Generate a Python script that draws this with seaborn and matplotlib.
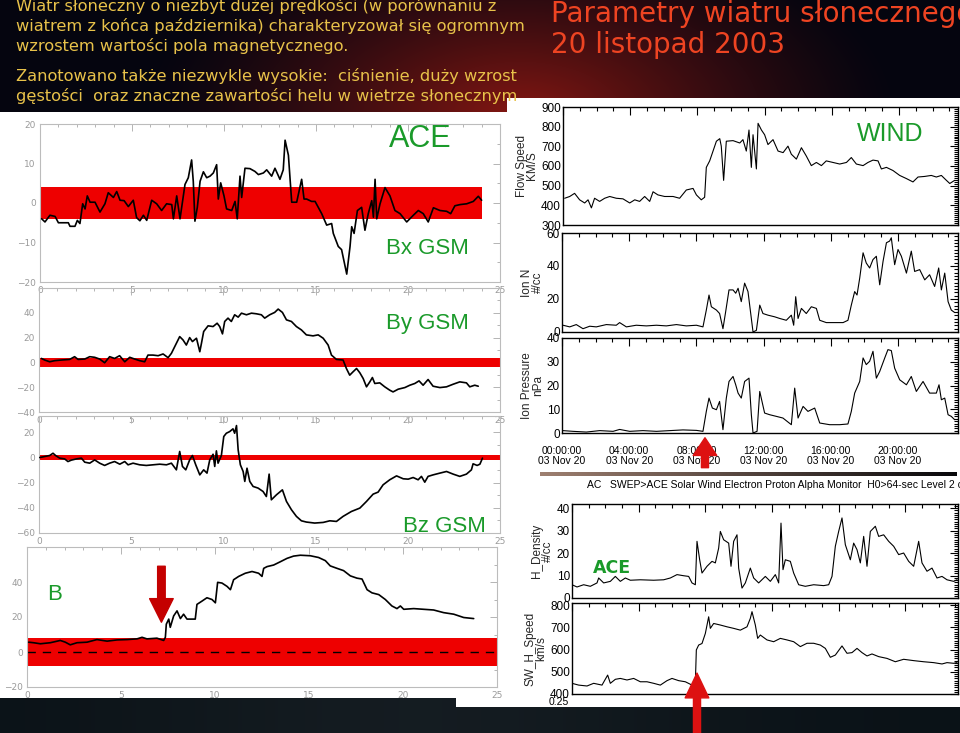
import numpy as np
import matplotlib
matplotlib.use("Agg")
import matplotlib.pyplot as plt
from matplotlib.patches import Rectangle
from matplotlib.ticker import MultipleLocator, FixedLocator
import seaborn as sns

W, H = 960, 733

# ---------------- ACE magnetic field, 20 Nov 2003 (hours UT, nT) ----------------
bx_hour = [0.09, 0.27, 0.54, 0.82, 1.0, 1.54, 1.63, 1.9, 2.03, 2.17,
           2.32, 2.45, 2.57, 2.72, 2.99, 3.26, 3.53, 3.71, 3.99, 4.17,
           4.35, 4.57, 4.8, 5.07, 5.25, 5.43, 5.62, 5.8, 6.07, 6.34,
           6.61, 6.88, 7.16, 7.25, 7.43, 7.61, 7.88, 8.06, 8.24, 8.33,
           8.42, 8.55, 8.7, 8.88, 9.06, 9.24, 9.42, 9.6, 9.69, 9.82,
           10.0, 10.14, 10.42, 10.6, 10.72, 10.87, 10.96, 11.14, 11.41, 11.68,
           11.87, 12.14, 12.32, 12.59, 12.77, 13.04, 13.22, 13.32, 13.5, 13.68,
           13.95, 14.22, 14.35, 14.49, 14.76, 14.95, 15.31, 15.58, 15.85, 15.94,
           16.21, 16.39, 16.67, 16.85, 16.94, 17.07, 17.25, 17.48, 17.66, 17.84,
           18.03, 18.12, 18.21, 18.3, 18.48, 18.75, 19.02, 19.29, 19.57, 19.93,
           20.29, 20.56, 20.83, 21.1, 21.38, 21.74, 22.1, 22.32, 22.55, 22.83,
           23.19, 23.55, 23.82, 24.0]
bx_val = [-4, -4.8, -3.1, -3.4, -5, -5, -5.9, -5.9, -4.4, -5.2,
          -0.2, -1.5, 1.8, 0.2, 0.2, -2.3, -0.2, 2.6, 1.4, 2.9,
          0.7, 0.6, -0.9, 0.7, -3.7, -4.5, -3.1, -4.4, 0.7, -0.2,
          -1.9, -0.2, -0.4, -4, 1.8, -4, 4.7, 6.4, 10.9, 5.5,
          -4.6, -1.1, 5.5, 7.9, 6.4, 6.8, 7.6, 9.7, 1.0, 5.1,
          1.8, -1.5, -1.9, 0.4, -4, 6.8, 1.4, 8.8, 8.7, 8.0,
          7.2, 7.6, 8.4, 6.8, 8.8, 6.0, 8.4, 15.9, 12.1, 0.2,
          0.2, 6.0, 1.0, 1.0, 0.4, 0.4, -2.7, -5.6, -5.2, -7.7,
          -11, -11.8, -18, -11, -6, -7.7, -1.9, -1.1, -6.9, -2.7,
          0.6, -3.6, 6.0, -4, -0.2, 3.9, 1.8, -1.9, -2.7, -4.8,
          -3.1, -1.9, -2.7, -4.8, -1.2, -1.9, -2.1, -2.7, -0.7, -0.4,
          -0.2, 0.4, 1.7, 0.7]

by_hour = [0.13, 0.31, 0.58, 0.85, 1.21, 1.66, 1.93, 2.12, 2.48, 2.75,
           3.02, 3.29, 3.56, 3.83, 4.1, 4.37, 4.65, 4.92, 5.19, 5.46,
           5.73, 5.91, 6.18, 6.46, 6.73, 7.0, 7.18, 7.36, 7.45, 7.63,
           7.81, 7.99, 8.17, 8.32, 8.54, 8.72, 8.81, 8.93, 9.17, 9.44,
           9.66, 9.8, 9.95, 10.07, 10.25, 10.43, 10.61, 10.8, 10.98, 11.25,
           11.52, 11.79, 12.06, 12.24, 12.51, 12.78, 12.97, 13.2, 13.42, 13.69,
           13.96, 14.23, 14.5, 14.86, 15.14, 15.41, 15.68, 15.86, 16.13, 16.49,
           16.67, 16.85, 17.03, 17.22, 17.4, 17.58, 17.76, 17.94, 18.08, 18.21,
           18.48, 18.75, 19.02, 19.2, 19.48, 19.84, 20.11, 20.38, 20.61, 20.83,
           21.1, 21.37, 21.74, 22.1, 22.46, 22.82, 23.18, 23.36, 23.63, 23.82]
by_val = [3.2, 1.9, 0.5, 1.4, 1.9, 2.4, 4.6, 2.4, 2.7, 4.6,
          4.1, 2.7, -0.3, 4.6, 3.2, 5.4, 0.5, 4.1, 2.7, 1.4,
          0.5, 5.9, 5.9, 5.4, 6.8, 3.8, 7.3, 12.7, 15.4, 20.8,
          18.1, 14.0, 20.0, 16.8, 19.5, 8.6, 15.4, 24.9, 29.5, 28.9,
          31.6, 28.9, 23.0, 33.0, 35.7, 33.0, 38.4, 36.5, 39.7, 38.4,
          39.7, 39.2, 38.4, 35.7, 38.4, 40.3, 43.0, 40.3, 34.3, 33.0,
          28.9, 26.2, 22.2, 21.4, 22.2, 19.5, 14.0, 5.9, 2.4, 1.9,
          -4.9, -10.3, -7.6, -4.9, -8.4, -13.0, -19.7, -15.7, -12.2, -17.0,
          -16.5, -19.7, -22.4, -23.8, -21.6, -20.3, -18.4, -17.0, -14.9, -18.4,
          -13.8, -19.2, -20.3, -19.7, -17.6, -15.7, -16.5, -19.7, -18.4, -19.2]

bz_hour = [0.04, 0.31, 0.58, 0.76, 0.9, 1.12, 1.39, 1.57, 1.75, 2.03,
           2.3, 2.48, 2.75, 3.02, 3.29, 3.56, 3.83, 4.1, 4.38, 4.65,
           4.83, 5.1, 5.46, 5.82, 6.18, 6.55, 6.91, 7.18, 7.45, 7.63,
           7.78, 7.96, 8.17, 8.32, 8.5, 8.72, 8.93, 9.11, 9.26, 9.44,
           9.53, 9.62, 9.71, 9.89, 10.02, 10.16, 10.34, 10.52, 10.61, 10.71,
           10.8, 10.92, 11.07, 11.16, 11.28, 11.43, 11.61, 11.88, 12.15, 12.33,
           12.48, 12.6, 12.88, 13.2, 13.42, 13.69, 13.96, 14.23, 14.5, 14.95,
           15.41, 15.77, 16.13, 16.49, 16.94, 17.4, 17.76, 18.12, 18.39, 18.66,
           19.02, 19.39, 19.75, 20.02, 20.29, 20.56, 20.74, 20.92, 21.1, 21.37,
           21.74, 22.1, 22.46, 22.82, 23.18, 23.45, 23.54, 23.76, 23.91, 24.05]
bz_val = [0, 0.8, 1.6, 3.4, 1.6, -0.5, -1.1, -3.2, -2.1, -1.1,
          -0.5, -3.7, -4.5, -1.9, -4.5, -6.3, -4.5, -3.2, -5.3, -3.2,
          -5.8, -4.5, -5.8, -6.3, -5.8, -5.3, -5.8, -4.5, -9.8, 4.8,
          -7.1, -9.8, -1.9, 1.6, -5.8, -13.8, -9.8, -12.4, -1.9, 2.6,
          -7.1, 5.3, -4.5, 1.6, 16.7, 19.3, 20.6, 22.8, 19.3, 25.4,
          6.1, -5.8, -11.1, -19.0, -8.5, -19.0, -23.0, -24.3, -27.0, -31.0,
          -13.2, -33.6, -29.6, -25.7, -34.9, -41.5, -46.8, -50.3, -51.3, -52.1,
          -51.6, -50.3, -50.8, -46.8, -42.9, -40.2, -34.9, -29.1, -27.5, -21.7,
          -17.7, -14.6, -16.9, -17.2, -15.9, -17.7, -15.0, -19.6, -15.0, -13.8,
          -12.4, -11.1, -13.2, -15.0, -13.2, -9.8, -5.0, -6.3, -5.3, -0.5]

b_hour = [0.09, 0.35, 0.71, 1.24, 1.77, 2.04, 2.3, 2.66, 3.19, 3.72,
          4.26, 4.79, 5.32, 5.85, 6.12, 6.38, 6.91, 7.27, 7.36, 7.41,
          7.54, 7.62, 7.8, 7.98, 8.16, 8.33, 8.51, 8.78, 8.95, 9.04,
          9.31, 9.57, 9.84, 10.02, 10.14, 10.37, 10.64, 10.82, 10.99, 11.26,
          11.61, 11.97, 12.32, 12.5, 12.59, 12.77, 13.12, 13.48, 13.83, 14.18,
          14.54, 15.07, 15.51, 15.87, 16.13, 16.49, 16.84, 17.2, 17.55, 17.82,
          18.09, 18.35, 18.71, 19.06, 19.41, 19.68, 19.86, 20.04, 20.57, 21.1,
          21.63, 22.16, 22.7, 23.23, 23.76]
b_val = [5.6, 5.3, 4.7, 5.3, 6.6, 5.6, 4.1, 5.3, 5.6, 7.1,
         6.2, 6.9, 7.1, 7.5, 8.4, 7.5, 7.9, 6.6, 8.4, 15.9,
         18.8, 14.1, 20.6, 23.5, 19.1, 21.6, 18.8, 18.8, 18.8, 27.2,
         29.1, 31.0, 30.0, 28.1, 39.8, 39.4, 37.5, 35.6, 41.3, 43.2,
         45.0, 46.0, 45.0, 43.2, 47.8, 48.8, 49.7, 51.6, 53.5, 54.8,
         55.3, 55.0, 54.0, 52.2, 49.2, 47.8, 46.5, 43.5, 42.2, 41.7,
         35.6, 33.8, 32.8, 30.0, 26.3, 24.8, 26.3, 24.4, 24.8, 24.4,
         24.0, 22.5, 21.6, 19.7, 19.1]

# quiet-field bands (red) for each component
bx_band = [-4, 4]
by_band = [-3.5, 3.5]
bz_band = [-2.2, 2.2]
b_band = [-8, 8]
bx_band_hours = [0, 24]
full_band_hours = [0, 25]
b_shock = [7.15, 49, 17]   # hour, arrow tail, arrow tip

# ---------------- WIND plasma (hours UT) ----------------
wv_hour = [0.1, 0.4, 0.69, 0.99, 1.29, 1.49, 1.69, 1.88, 2.18, 2.48,
           2.78, 3.17, 3.57, 3.97, 4.27, 4.56, 4.86, 5.16, 5.36, 5.65,
           6.05, 6.55, 6.94, 7.34, 7.74, 7.94, 8.23, 8.43, 8.53, 8.73,
           8.93, 9.13, 9.33, 9.42, 9.56, 9.72, 10.12, 10.52, 10.71, 10.91,
           11.07, 11.21, 11.31, 11.51, 11.61, 11.81, 12.0, 12.2, 12.5, 12.8,
           13.1, 13.39, 13.59, 13.89, 14.19, 14.48, 14.78, 15.08, 15.38, 15.67,
           16.07, 16.47, 16.87, 17.16, 17.46, 17.86, 18.15, 18.45, 18.75, 18.95,
           19.25, 19.64, 20.04, 20.44, 20.83, 21.13, 21.53, 21.92, 22.22, 22.52,
           22.82, 23.02, 23.31]
wv_val = [436, 445, 461, 428, 412, 428, 387, 436, 420, 436,
          445, 436, 433, 412, 428, 420, 445, 420, 469, 453,
          445, 445, 436, 478, 486, 453, 428, 441, 593, 626,
          676, 726, 739, 701, 527, 726, 729, 717, 734, 676,
          783, 593, 759, 585, 817, 783, 759, 709, 734, 676,
          668, 701, 660, 635, 693, 651, 602, 618, 602, 626,
          618, 610, 618, 643, 610, 602, 618, 630, 626, 585,
          593, 577, 552, 536, 519, 544, 547, 552, 544, 552,
          527, 511, 527]

wn_hour = [0.06, 0.46, 0.85, 1.25, 1.65, 2.04, 2.64, 3.23, 3.43, 3.83,
           4.42, 5.02, 5.62, 6.21, 6.81, 7.4, 8.0, 8.39, 8.59, 8.75,
           8.89, 9.19, 9.38, 9.58, 9.74, 9.94, 10.18, 10.34, 10.48, 10.67,
           10.87, 11.07, 11.17, 11.37, 11.57, 11.77, 11.96, 12.26, 12.66, 12.96,
           13.35, 13.65, 13.79, 13.91, 14.05, 14.25, 14.54, 14.84, 15.14, 15.34,
           15.73, 16.23, 16.73, 17.02, 17.22, 17.42, 17.56, 17.72, 17.92, 18.11,
           18.31, 18.51, 18.71, 18.91, 19.11, 19.31, 19.5, 19.6, 19.8, 20.0,
           20.2, 20.5, 20.79, 20.99, 21.29, 21.59, 21.88, 22.18, 22.42, 22.58,
           22.78, 22.98, 23.17, 23.37]
wn_val = [4.1, 3.1, 4.5, 2.0, 3.5, 3.1, 4.5, 4.1, 5.7, 3.1,
          4.1, 3.7, 4.1, 3.7, 4.5, 3.7, 4.1, 3.1, 13.3, 22.4,
          15.3, 13.3, 11.2, 2.0, 12.2, 25.5, 25.5, 23.5, 26.5, 18.4,
          29.6, 24.5, 16.3, 0.0, 1.0, 16.3, 11.2, 10.2, 9.2, 8.2,
          7.1, 10.2, 4.1, 21.4, 8.2, 14.3, 11.2, 15.3, 14.3, 7.1,
          5.7, 5.7, 5.7, 7.1, 16.3, 24.5, 22.4, 32.7, 48.0, 41.8,
          38.8, 43.9, 45.9, 28.6, 42.9, 54.1, 55.1, 57.1, 40.8, 50.0,
          45.9, 35.7, 49.0, 36.7, 37.8, 31.6, 34.7, 27.6, 38.8, 25.5,
          35.7, 18.4, 13.3, 11.8]

wp_hour = [0.06, 0.65, 1.45, 2.24, 3.04, 3.43, 4.03, 4.82, 5.62, 6.41,
           7.2, 8.0, 8.39, 8.59, 8.75, 8.95, 9.19, 9.38, 9.58, 9.78,
           9.94, 10.18, 10.34, 10.48, 10.67, 10.87, 11.13, 11.27, 11.37, 11.61,
           11.77, 12.06, 12.36, 12.76, 13.15, 13.65, 13.85, 14.05, 14.35, 14.64,
           15.04, 15.34, 15.93, 16.53, 17.02, 17.22, 17.42, 17.72, 17.92, 18.11,
           18.31, 18.51, 18.71, 18.91, 19.21, 19.4, 19.6, 19.8, 20.1, 20.5,
           20.79, 21.09, 21.49, 21.88, 22.28, 22.44, 22.58, 22.78, 22.98, 23.17,
           23.37]
wp_val = [1.0, 0.7, 0.4, 1.0, 0.7, 1.5, 0.7, 1.0, 0.7, 1.0,
          1.3, 1.1, 0.7, 9.1, 14.7, 10.5, 9.8, 13.3, 1.4, 14.7,
          21.7, 23.8, 20.3, 16.8, 14.7, 21.7, 23.1, 7.7, 0.0, 0.7,
          17.5, 8.4, 7.7, 7.0, 6.3, 3.5, 18.9, 6.3, 11.2, 9.1,
          10.5, 4.2, 3.5, 3.5, 3.8, 9.1, 16.8, 21.7, 31.6, 28.8,
          30.2, 34.4, 23.1, 25.9, 31.6, 35.1, 34.7, 27.3, 22.4, 20.3,
          23.8, 17.5, 21.7, 16.8, 16.8, 20.3, 14.0, 14.7, 7.7, 7.0,
          5.6]
wind_shock = [8.51, -14.6, -2.0]
wind_ticks = [0, 4, 8, 12, 16, 20]
wind_ticklabels = ["00:00:00\n03 Nov 20", "04:00:00\n03 Nov 20", "08:00:00\n03 Nov 20",
                   "12:00:00\n03 Nov 20", "16:00:00\n03 Nov 20", "20:00:00\n03 Nov 20"]

# ---------------- ACE SWEPAM ----------------
an_hour = [0.0, 0.3, 0.7, 1.1, 1.5, 1.6, 1.9, 2.3, 2.6, 2.9,
           3.2, 3.5, 4.1, 4.9, 5.5, 5.9, 6.3, 6.7, 7.0, 7.2,
           7.4, 7.5, 7.66, 7.8, 8.1, 8.4, 8.6, 8.8, 8.9, 9.1,
           9.4, 9.54, 9.7, 9.9, 10.0, 10.2, 10.4, 10.7, 10.9, 11.2,
           11.6, 11.9, 12.2, 12.4, 12.54, 12.66, 12.8, 13.1, 13.3, 13.6,
           14.0, 14.5, 15.1, 15.4, 15.6, 15.8, 16.0, 16.2, 16.4, 16.7,
           16.9, 17.1, 17.3, 17.5, 17.7, 17.9, 18.2, 18.4, 18.7, 19.0,
           19.3, 19.6, 19.9, 20.2, 20.5, 20.8, 21.0, 21.3, 21.6, 21.9,
           22.2, 22.5, 22.9, 23.1]
an_val = [5.9, 4.9, 5.9, 5.2, 6.7, 8.9, 6.7, 7.4, 9.6, 7.4,
          8.9, 7.9, 8.1, 7.9, 8.1, 8.9, 10.4, 9.9, 9.6, 6.7,
          5.9, 25.2, 17.0, 11.1, 14.1, 16.3, 15.6, 22.2, 29.6, 25.9,
          24.4, 14.1, 25.2, 28.1, 13.3, 4.4, 6.7, 13.3, 8.9, 6.7,
          9.6, 7.4, 10.4, 6.7, 33.3, 12.6, 17.0, 16.3, 11.1, 5.9,
          5.2, 5.9, 5.5, 5.9, 9.6, 23.0, 29.6, 35.6, 23.7, 17.0,
          24.4, 21.5, 15.6, 27.4, 14.1, 29.6, 31.9, 27.4, 28.1, 25.2,
          23.0, 19.3, 20.0, 16.3, 14.1, 25.2, 15.6, 11.9, 13.3, 8.9,
          9.6, 8.1, 7.4, 8.1]

av_hour = [0.0, 0.4, 0.9, 1.3, 1.8, 2.14, 2.3, 2.6, 2.9, 3.3,
           3.7, 4.1, 4.5, 4.9, 5.3, 5.7, 6.0, 6.4, 6.8, 7.2,
           7.4, 7.46, 7.6, 7.8, 8.0, 8.2, 8.3, 8.5, 8.9, 9.3,
           9.7, 10.1, 10.5, 10.7, 10.8, 11.0, 11.14, 11.3, 11.7, 12.1,
           12.5, 12.9, 13.3, 13.7, 14.1, 14.5, 14.9, 15.2, 15.5, 15.8,
           16.2, 16.5, 16.8, 17.1, 17.4, 17.7, 18.0, 18.4, 18.9, 19.4,
           19.9, 20.5, 21.1, 21.7, 22.2, 22.5, 22.9, 23.1]
av_val = [448, 440, 436, 448, 440, 485, 448, 466, 470, 463,
          470, 455, 455, 448, 440, 460, 470, 460, 455, 440,
          448, 598, 620, 627, 672, 747, 695, 717, 710, 702,
          695, 687, 702, 740, 770, 710, 650, 665, 643, 635,
          650, 643, 635, 613, 628, 628, 620, 605, 565, 575,
          616, 583, 586, 605, 586, 571, 580, 568, 560, 545,
          556, 550, 545, 541, 535, 541, 538, 541]
ace_shock = [7.5, 225, 494]

GREEN = "#1a9a2a"
RED = "#ee0000"

sns.set_theme(style="white")
plt.rcParams["font.family"] = ["DejaVu Sans"]

fig = plt.figure(figsize=(W / 100, H / 100), dpi=100)


def px_axes(x0, y0, x1, y1):
    ax = fig.add_axes([x0 / W, 1 - y1 / H, (x1 - x0) / W, (y1 - y0) / H])
    ax.set_facecolor("none")
    return ax


# ---- slide background ----
bg = px_axes(0, 0, W, H)
yy, xx = np.mgrid[0:H, 0:W]
glow = np.clip(1 - np.hypot((xx - 520) / 380, (yy - 115) / 200), 0, 1) ** 1.3
base = np.array([0.02, 0.02, 0.06])
red_glow = np.array([0.52, 0.09, 0.07])
img = base + glow[..., None] * (red_glow - base)
img[690:] = np.array([0.04, 0.07, 0.09]) + 0.04 * np.exp(-((xx[690:] - 420) / 300.0) ** 2)[..., None]
bg.imshow(img, extent=(0, W, H, 0), aspect="auto", zorder=0)
for x0, y0, w, h in [(0, 112, 507, 586), (507, 98, 453, 609), (456, 698, 51, 9)]:
    bg.add_patch(Rectangle((x0, y0), w, h, color="white", zorder=1, lw=0))
ramp = np.linspace(0, 1, 256)[None, :, None]
bar_img = np.array([0.62, 0.5, 0.44]) * (1 - ramp) + np.array([0.03, 0.03, 0.04]) * ramp
bg.imshow(bar_img, extent=(540, 957, 476, 472), aspect="auto", zorder=2)
bg.set_xlim(0, W)
bg.set_ylim(H, 0)
bg.axis("off")

# ---- header texts ----
header = ["Wiatr słoneczny o niezbyt dużej prędkości (w porównaniu z",
          "wiatrem z końca października) charakteryzował się ogromnym",
          "wzrostem wartości pola magnetycznego.",
          "Zanotowano także niezwykle wysokie:  ciśnienie, duży wzrost",
          "gęstości  oraz znaczne zawartości helu w wietrze słonecznym"]
for txt, yc in zip(header, [6, 26, 46, 76, 96]):
    fig.text(16 / W, 1 - yc / H, txt, color="#e8c24a", fontsize=11.7, va="center", ha="left")
for txt, yc in zip(["Parametry wiatru słonecznego", "20 listopad 2003"], [14, 45]):
    fig.text(551 / W, 1 - yc / H, txt, color="#ee4422", fontsize=20, va="center", ha="left")


# ---- left column: ACE magnetic field (IDL style) ----
def idl_panel(ax, hours, vals, band, band_hours, ylim, yminor, yticks):
    ax.fill_between(band_hours, [band[0]] * 2, [band[1]] * 2, color=RED, lw=0, zorder=1)
    sns.lineplot(x=hours, y=vals, ax=ax, color="black", linewidth=1.2,
                 estimator=None, sort=False, zorder=3)
    ax.set_xlim(0, 25)
    ax.set_ylim(*ylim)
    ax.xaxis.set_major_locator(MultipleLocator(5))
    ax.xaxis.set_minor_locator(MultipleLocator(1))
    ax.yaxis.set_major_locator(FixedLocator(yticks))
    ax.yaxis.set_minor_locator(MultipleLocator(yminor))
    ax.tick_params(which="both", direction="in", top=True, right=True,
                   colors="#b4b4b4", labelcolor="#9a9a9a", labelsize=6.5, width=0.7)
    ax.tick_params(which="major", length=5, pad=3)
    ax.tick_params(which="minor", length=2.5)
    for s in ax.spines.values():
        s.set_color("#bcbcbc")
        s.set_linewidth(0.8)
    ax.set_xlabel("")
    ax.set_ylabel("")


ax_bx = px_axes(40, 124, 500, 282)
idl_panel(ax_bx, bx_hour, bx_val, bx_band, bx_band_hours, (-20, 20), 5, [-20, -10, 0, 10, 20])
ax_by = px_axes(39, 288, 500, 412)
idl_panel(ax_by, by_hour, by_val, by_band, full_band_hours, (-40, 60), 10, [-40, -20, 0, 20, 40])
ax_bz = px_axes(39, 416, 500, 533)
idl_panel(ax_bz, bz_hour, bz_val, bz_band, full_band_hours, (-60, 33), 10, [-60, -40, -20, 0, 20])
ax_b = px_axes(27, 547, 497, 687)
idl_panel(ax_b, b_hour, b_val, b_band, full_band_hours, (-20, 60), 10, [-20, 0, 20, 40])
ax_b.axhline(0, color="black", lw=1.0, dashes=(6, 5), zorder=2)
ax_b.annotate("", xy=(b_shock[0], b_shock[2]), xytext=(b_shock[0], b_shock[1]),
              arrowprops=dict(arrowstyle="simple,head_length=1.0,head_width=1.0,tail_width=0.32",
                              color="#c40000", shrinkA=0, shrinkB=0, mutation_scale=17),
              zorder=5)

fig.text(420 / W, 1 - 139 / H, "ACE", color=GREEN, fontsize=22, ha="center", va="center",
         family="Liberation Sans")
fig.text(427 / W, 1 - 248 / H, "Bx GSM", color=GREEN, fontsize=16, ha="center", va="center",
         family="Liberation Sans")
fig.text(427 / W, 1 - 323 / H, "By GSM", color=GREEN, fontsize=16, ha="center", va="center",
         family="Liberation Sans")
fig.text(444 / W, 1 - 527 / H, "Bz GSM", color=GREEN, fontsize=16, ha="center", va="center",
         family="Liberation Sans")
fig.text(55 / W, 1 - 594 / H, "B", color=GREEN, fontsize=16, ha="center", va="center",
         family="Liberation Sans")


# ---- right column: CDAWeb style plots ----
def cda_panel(ax, hours, vals, ylim, ymajor, yminor, xmax, ylabel):
    sns.lineplot(x=hours, y=vals, ax=ax, color="black", linewidth=0.8,
                 estimator=None, sort=False)
    ax.set_xlim(0, xmax)
    ax.set_ylim(*ylim)
    ax.xaxis.set_major_locator(MultipleLocator(4))
    ax.xaxis.set_minor_locator(MultipleLocator(1))
    ax.yaxis.set_major_locator(MultipleLocator(ymajor))
    ax.yaxis.set_minor_locator(MultipleLocator(yminor))
    ax.tick_params(which="both", direction="in", top=True, right=True, colors="black",
                   labelsize=8.5, width=0.8, pad=1.5)
    ax.tick_params(which="major", length=6)
    ax.tick_params(which="minor", length=3)
    ax.tick_params(axis="x", labelbottom=False)
    for s in ax.spines.values():
        s.set_color("black")
        s.set_linewidth(1.0)
    for lab in ax.get_yticklabels():
        lab.set_family("Liberation Sans")
    ax.set_xlabel("")
    ax.set_ylabel(ylabel, fontsize=8.5, family="Liberation Sans", linespacing=0.85, labelpad=2)


ax_wv = px_axes(563, 107, 958, 225)
cda_panel(ax_wv, wv_hour, wv_val, (300, 900), 100, 10, 23.51, "Flow Speed\nKM/S")
ax_wn = px_axes(562, 233, 958, 332)
cda_panel(ax_wn, wn_hour, wn_val, (0, 60), 20, 2, 23.57, "Ion N\n#/cc")
ax_wp = px_axes(562, 338, 958, 433)
cda_panel(ax_wp, wp_hour, wp_val, (0, 40), 10, 1, 23.57, "Ion Pressure\nnPa")
ax_wp.tick_params(axis="x", labelbottom=True, labelsize=7.5, pad=9)
ax_wp.set_xticks(wind_ticks)
ax_wp.set_xticklabels(wind_ticklabels, family="Liberation Sans", linespacing=1.0)
ax_wp.annotate("", xy=(wind_shock[0], wind_shock[2]), xytext=(wind_shock[0], wind_shock[1]),
               arrowprops=dict(arrowstyle="simple,head_length=0.75,head_width=1.0,tail_width=0.3",
                               color="#dd1111", shrinkA=0, shrinkB=0, mutation_scale=17),
               annotation_clip=False, zorder=6)

ax_an = px_axes(572, 504, 958, 598)
cda_panel(ax_an, an_hour, an_val, (0, 41.8), 10, 1, 23.16, "H_Density\n#/cc")
ax_av = px_axes(572, 603, 958, 694)
cda_panel(ax_av, av_hour, av_val, (400, 809), 100, 10, 23.16, "SW_H_Speed\nkm/s")
ax_av.annotate("", xy=(ace_shock[0], ace_shock[2]), xytext=(ace_shock[0], ace_shock[1]),
               arrowprops=dict(arrowstyle="simple,head_length=1.05,head_width=1.0,tail_width=0.3",
                               color="#dd1111", shrinkA=0, shrinkB=0, mutation_scale=17),
               annotation_clip=False, zorder=6)

fig.text(890 / W, 1 - 134 / H, "WIND", color=GREEN, fontsize=18, ha="center", va="center",
         family="Liberation Sans")
fig.text(612 / W, 1 - 568 / H, "ACE", color=GREEN, fontsize=12.5, ha="center", va="center",
         fontweight="bold")
fig.text(587 / W, 1 - 485 / H,
         "AC   SWEP>ACE Solar Wind Electron Proton Alpha Monitor  H0>64-sec Level 2 c",
         color="black", fontsize=7.5, ha="left", va="center", family="Liberation Sans")
fig.text(569 / W, 1 - 702 / H, "0.25", color="black", fontsize=7.5, ha="right", va="center",
         family="Liberation Sans")

fig.savefig("out.png", dpi=100)
